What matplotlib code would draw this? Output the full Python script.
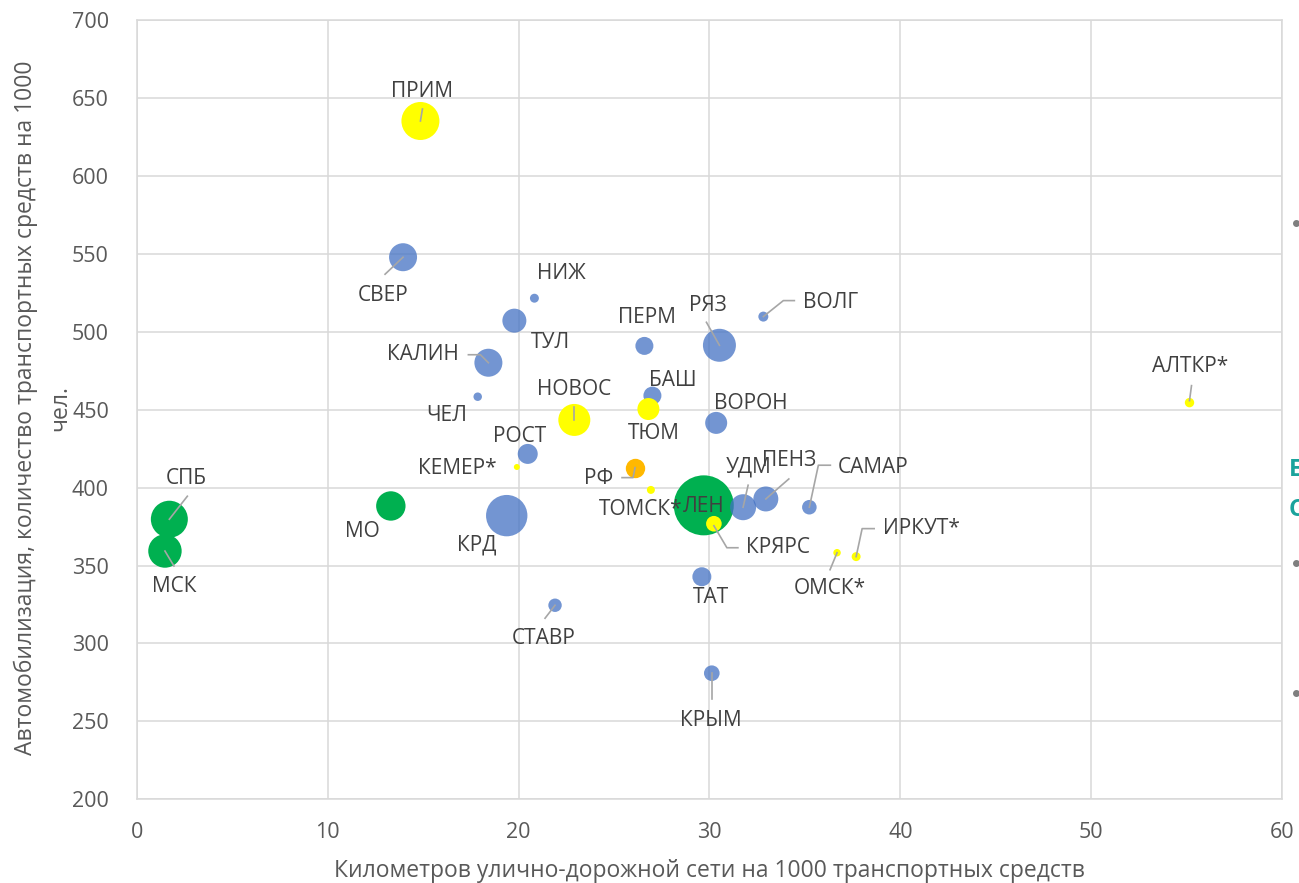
import numpy as np
import matplotlib
matplotlib.use('Agg')
import matplotlib.pyplot as plt
from matplotlib.lines import Line2D
from matplotlib.transforms import IdentityTransform

matplotlib.rcParams['font.family'] = ['Open Sans', 'DejaVu Sans']

# --- data ---------------------------------------------------------------
regions = ['ПРИМ', 'СВЕР', 'НИЖ', 'ТУЛ', 'КАЛИН', 'ЧЕЛ', 'НОВОС', 'ПЕРМ',
           'БАШ', 'ТЮМ', 'РЯЗ', 'ВОЛГ', 'ВОРОН', 'РОСТ', 'КЕМЕР*', 'РФ',
           'ТОМСК*', 'КРД', 'ЛЕН', 'КРЯРС', 'УДМ', 'ПЕНЗ', 'САМАР', 'ОМСК*',
           'ИРКУТ*', 'АЛТКР*', 'ТАТ', 'СТАВР', 'КРЫМ', 'МО', 'СПБ', 'МСК']
km_per_1000 = [14.86, 13.95, 20.83, 19.78, 18.42, 17.86, 22.92, 26.59,
               27.01, 26.80, 30.52, 32.82, 30.35, 20.48, 19.91, 26.10,
               26.93, 19.38, 29.70, 30.23, 31.76, 32.95, 35.23, 36.68,
               37.68, 55.14, 29.60, 21.91, 30.12, 13.31, 1.71, 1.48]
cars_per_1000 = [635.2, 547.8, 521.5, 507.1, 480.1, 458.3, 443.4, 490.9,
                 459.0, 450.4, 491.3, 509.7, 441.5, 421.6, 413.2, 412.8,
                 398.5, 382.0, 388.6, 376.8, 387.4, 392.7, 387.4, 358.2,
                 355.7, 454.5, 342.8, 324.5, 280.9, 388.2, 379.7, 359.3]
bubble = [361, 196, 20, 144, 196, 18, 256, 81,
          81, 121, 272, 25, 121, 100, 9, 94,
          16, 428, 900, 61, 169, 156, 53, 14,
          20, 22, 90, 45, 61, 216, 342, 279]
group = ['Y', 'B', 'B', 'B', 'B', 'B', 'Y', 'B',
         'B', 'Y', 'B', 'B', 'B', 'B', 'Y', 'O',
         'Y', 'B', 'G', 'Y', 'B', 'B', 'B', 'Y',
         'Y', 'Y', 'B', 'B', 'B', 'G', 'G', 'G']

# --- styling ------------------------------------------------------------
group_style = {
    'G': dict(color='#00B050', alpha=1.0),
    'B': dict(color='#4472C4', alpha=0.75),
    'Y': dict(color='#FFFF00', alpha=1.0),
    'O': dict(color='#FFB800', alpha=1.0),
}
draw_order = ['G', 'B', 'Y', 'O']

# label centre offsets from the bubble, in pixels (y down)
label_off = {
    'ПРИМ': (2, -29), 'СВЕР': (-20, 38), 'НИЖ': (27, -25), 'ТУЛ': (36, 22),
    'КАЛИН': (-65, -8), 'ЧЕЛ': (-31, 19), 'НОВОС': (0, -30), 'ПЕРМ': (3, -28),
    'БАШ': (20, -15), 'ТЮМ': (5, 24), 'РЯЗ': (-12, -40), 'ВОЛГ': (67, -14),
    'ВОРОН': (35, -19), 'РОСТ': (-8, -17), 'КЕМЕР*': (-60, 1), 'РФ': (-36, 11),
    'ТОМСК*': (-10, 20), 'КРД': (-30, 29), 'ЛЕН': (0, 1), 'КРЯРС': (64, 24),
    'УДМ': (5, -40), 'ПЕНЗ': (23, -38), 'САМАР': (64, -40), 'ОМСК*': (-7, 36),
    'ИРКУТ*': (65, -28), 'АЛТКР*': (1, -36), 'ТАТ': (9, 21), 'СТАВР': (-11, 33),
    'КРЫМ': (-1, 47), 'МО': (-28, 26), 'СПБ': (17, -41), 'МСК': (9, 35),
}

# leader lines, pixel offsets from the bubble (y down)
leaders = {
    'ПРИМ': [(0, 0), (2, -12)],
    'СВЕР': [(0, 0), (-18, 17)],
    'КАЛИН': [(0, 0), (-8, -8), (-20, -8)],
    'НОВОС': [(0, 0), (0, -13)],
    'РЯЗ': [(0, 0), (-13, -23)],
    'ВОЛГ': [(0, 0), (20, -16), (31, -16)],
    'РФ': [(0, 0), (-2, 10), (-13, 10)],
    'КРЯРС': [(0, 2), (13, 24), (24, 24)],
    'УДМ': [(0, 0), (5, -22)],
    'ПЕНЗ': [(0, 0), (23, -20)],
    'САМАР': [(0, 0), (9, -42), (21, -42)],
    'ИРКУТ*': [(0, 0), (6, -28), (18, -28)],
    'ОМСК*': [(0, 0), (-7, 17)],
    'АЛТКР*': [(0, -2), (2, -17)],
    'КРЫМ': [(0, 0), (0, 26)],
    'СТАВР': [(0, 0), (-10, 13)],
    'СПБ': [(0, 0), (18, -23)],
    'МСК': [(0, 0), (9, 15)],
}

W, H = 1299, 883
fig = plt.figure(figsize=(W / 100, H / 100), dpi=100)
ax = fig.add_axes([136.7 / W, (H - 799.3) / H, 1145.6 / W, 779.3 / H])

ax.set_xlim(0, 60)
ax.set_ylim(200, 700)
ax.set_xticks(np.arange(0, 61, 10))
ax.set_yticks(np.arange(200, 701, 50))
ax.grid(True, color='#D9D9D9', linewidth=1.1)
ax.set_axisbelow(True)
for sp in ax.spines.values():
    sp.set_color('#D9D9D9')
    sp.set_linewidth(1.1)
ax.tick_params(axis='x', length=0, labelsize=15.5, labelcolor='#595959', pad=16)
ax.tick_params(axis='y', length=0, labelsize=15.5, labelcolor='#595959', pad=20)

x = np.array(km_per_1000)
y = np.array(cars_per_1000)
b = np.array(bubble, dtype=float)
g = np.array(group)
for key in draw_order:
    m = g == key
    ax.scatter(x[m], y[m], s=2.0736 * b[m], linewidths=0,
               zorder=3, **group_style[key])

for i, name in enumerate(regions):
    dx, dy = label_off[name]
    ax.annotate(name, (x[i], y[i]), xytext=(dx, -dy), textcoords='offset pixels',
                ha='center', va='center', fontsize=15, color='#404040', zorder=6)

fig.canvas.draw()
for i, name in enumerate(regions):
    if name not in leaders:
        continue
    px, py = ax.transData.transform((x[i], y[i]))
    pts = np.array(leaders[name], dtype=float)
    ln = Line2D(px + pts[:, 0], py - pts[:, 1], transform=IdentityTransform(),
                color='#A6A6A6', linewidth=1.2, zorder=5)
    ax.add_line(ln)

ax.set_xlabel('Километров улично-дорожной сети на 1000 транспортных средств',
              fontsize=16.5, color='#595959', labelpad=12)
ax.set_ylabel('Автомобилизация, количество транспортных средств на 1000\nчел.',
              fontsize=16.5, color='#595959', linespacing=1.6, va='center')
ax.yaxis.set_label_coords((43 - 136.7) / 1145.6, (799.3 - 408) / 779.3)

# clipped legend fragments at the right edge
for yy in [223, 563, 693]:
    fig.add_artist(Line2D([1296 / W], [1 - yy / H], marker='o', markersize=4,
                          color='#7F7F7F', linestyle='none'))
fig.text(1289 / W, 1 - 470 / H, 'Е', fontsize=17, fontweight='bold',
         color='#1BA39C', ha='left', va='center')
fig.text(1289 / W, 1 - 510 / H, 'С', fontsize=17, fontweight='bold',
         color='#1BA39C', ha='left', va='center')

fig.savefig('out.png', dpi=100, facecolor='white')
